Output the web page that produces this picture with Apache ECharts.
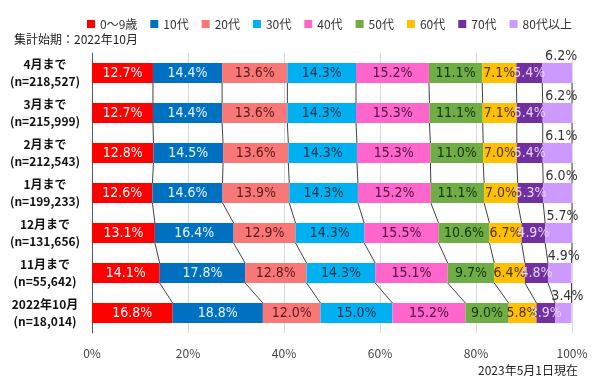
<!DOCTYPE html>
<html><head><meta charset="utf-8">
<script src="https://cdn.jsdelivr.net/npm/echarts@6/dist/echarts.min.js"></script>
<style>html,body{margin:0;padding:0;background:#fff}#c{width:600px;height:388px}</style>
</head><body><div id="c"></div>
<script>
const categories = ['4月まで\n(n=218,527)','3月まで\n(n=215,999)','2月まで\n(n=212,543)','1月まで\n(n=199,233)','12月まで\n(n=131,656)','11月まで\n(n=55,642)','2022年10月\n(n=18,014)'];
const seriesNames = ['0～9歳','10代','20代','30代','40代','50代','60代','70代','80代以上'];
const age0 = [12.7,12.7,12.8,12.6,13.1,14.1,16.8];
const age10 = [14.4,14.4,14.5,14.6,16.4,17.8,18.8];
const age20 = [13.6,13.6,13.6,13.9,12.9,12.8,12.0];
const age30 = [14.3,14.3,14.3,14.3,14.3,14.3,15.0];
const age40 = [15.2,15.3,15.3,15.2,15.5,15.1,15.2];
const age50 = [11.1,11.1,11.0,11.1,10.6,9.7,9.0];
const age60 = [7.1,7.1,7.0,7.0,6.7,6.4,5.8];
const age70 = [5.4,5.4,5.4,5.3,4.9,4.8,3.9];
const age80 = [6.2,6.2,6.1,6.0,5.7,4.9,3.4];
const xTicks = [0,20,40,60,80,100];

const values = [age0,age10,age20,age30,age40,age50,age60,age70,age80];
const colors = ['#FF0000','#0070C0','#F87878','#00B0F0','#FF66CC','#70AD47','#FFC000','#7030A0','#CC99FF'];
const labelColors = ['#ffffff','#e8f4ff','#5a1a1a','#12304a','#4a1040','#16330c','#4a3000','#e6d6f5','#333333'];
const FONT = '"DejaVu Sans Condensed","DejaVu Sans",sans-serif';

// cumulative boundaries
const cum = categories.map((_, r) => { let s = 0; return values.map(v => (s += v[r])); });

const chart = echarts.init(document.getElementById('c'));
const series = values.map((v, k) => ({
  name: seriesNames[k], type: 'bar', stack: 'a', data: v, barWidth: '50%',
  itemStyle: { color: colors[k] },
  label: k === 8 ? {
    show: true, position: 'top', distance: 0, offset: [4, 0],
    formatter: p => p.value.toFixed(1) + '%', color: labelColors[k], fontSize: 14, fontFamily: FONT
  } : {
    show: true, position: 'inside', formatter: p => p.value.toFixed(1) + '%',
    color: labelColors[k], fontSize: 14, fontFamily: FONT
  },
  z: 3
}));
series.push({
  type: 'custom', name: 'lines', silent: true, z: 2,
  data: categories.slice(0, -1).map((_, i) => i),
  renderItem: (params, api) => {
    const i = api.value(0);
    const half = api.size([0, 1])[1] * 0.25;
    const children = [];
    for (let k = 0; k < values.length; k++) {
      const p1 = api.coord([Math.min(cum[i][k],100), i]);
      const p2 = api.coord([Math.min(cum[i+1][k],100), i + 1]);
      children.push({ type: 'line', shape: { x1: p1[0], y1: p1[1] + half, x2: p2[0], y2: p2[1] - half },
        style: { stroke: '#404040', lineWidth: 1 } });
    }
    return { type: 'group', children };
  },
  encode: { x: -1, y: 0 }
});

chart.setOption({
  animation: false,
  legend: {
    data: seriesNames, top: 13, left: 82, itemWidth: 8, itemHeight: 8, itemGap: 13,
    icon: 'rect', textStyle: { fontSize: 12, color: '#333', fontFamily: '"Noto Sans CJK JP"' }
  },
  graphic: [
    { type: 'text', left: 14, top: 33, style: { text: '集計始期：2022年10月', fill: '#222', font: '12px "Noto Sans CJK JP"' } },
    { type: 'text', left: 478, top: 364, style: { text: '2023年5月1日現在', fill: '#222', font: '12px "Noto Sans CJK JP"' } }
  ],
  grid: { left: 92, right: 28, top: 53, bottom: 55, containLabel: false },
  xAxis: {
    type: 'value', min: 0, max: 100, interval: 20,
    axisLabel: { formatter: v => xTicks.includes(v) ? v + '%' : '', fontSize: 12, color: '#444', margin: 14, fontFamily: '"Noto Sans CJK JP"' },
    splitLine: { lineStyle: { color: '#d9d9d9' } },
    axisLine: { show: false }, axisTick: { show: false }
  },
  yAxis: {
    type: 'category', data: categories, inverse: true,
    axisLine: { lineStyle: { color: '#595959' } }, axisTick: { show: false },
    axisLabel: { align: 'center', margin: 47, fontSize: 12, fontWeight: 'bold', color: '#111', lineHeight: 17, fontFamily: '"Noto Sans CJK JP"' }
  },
  series
});
</script></body></html>
